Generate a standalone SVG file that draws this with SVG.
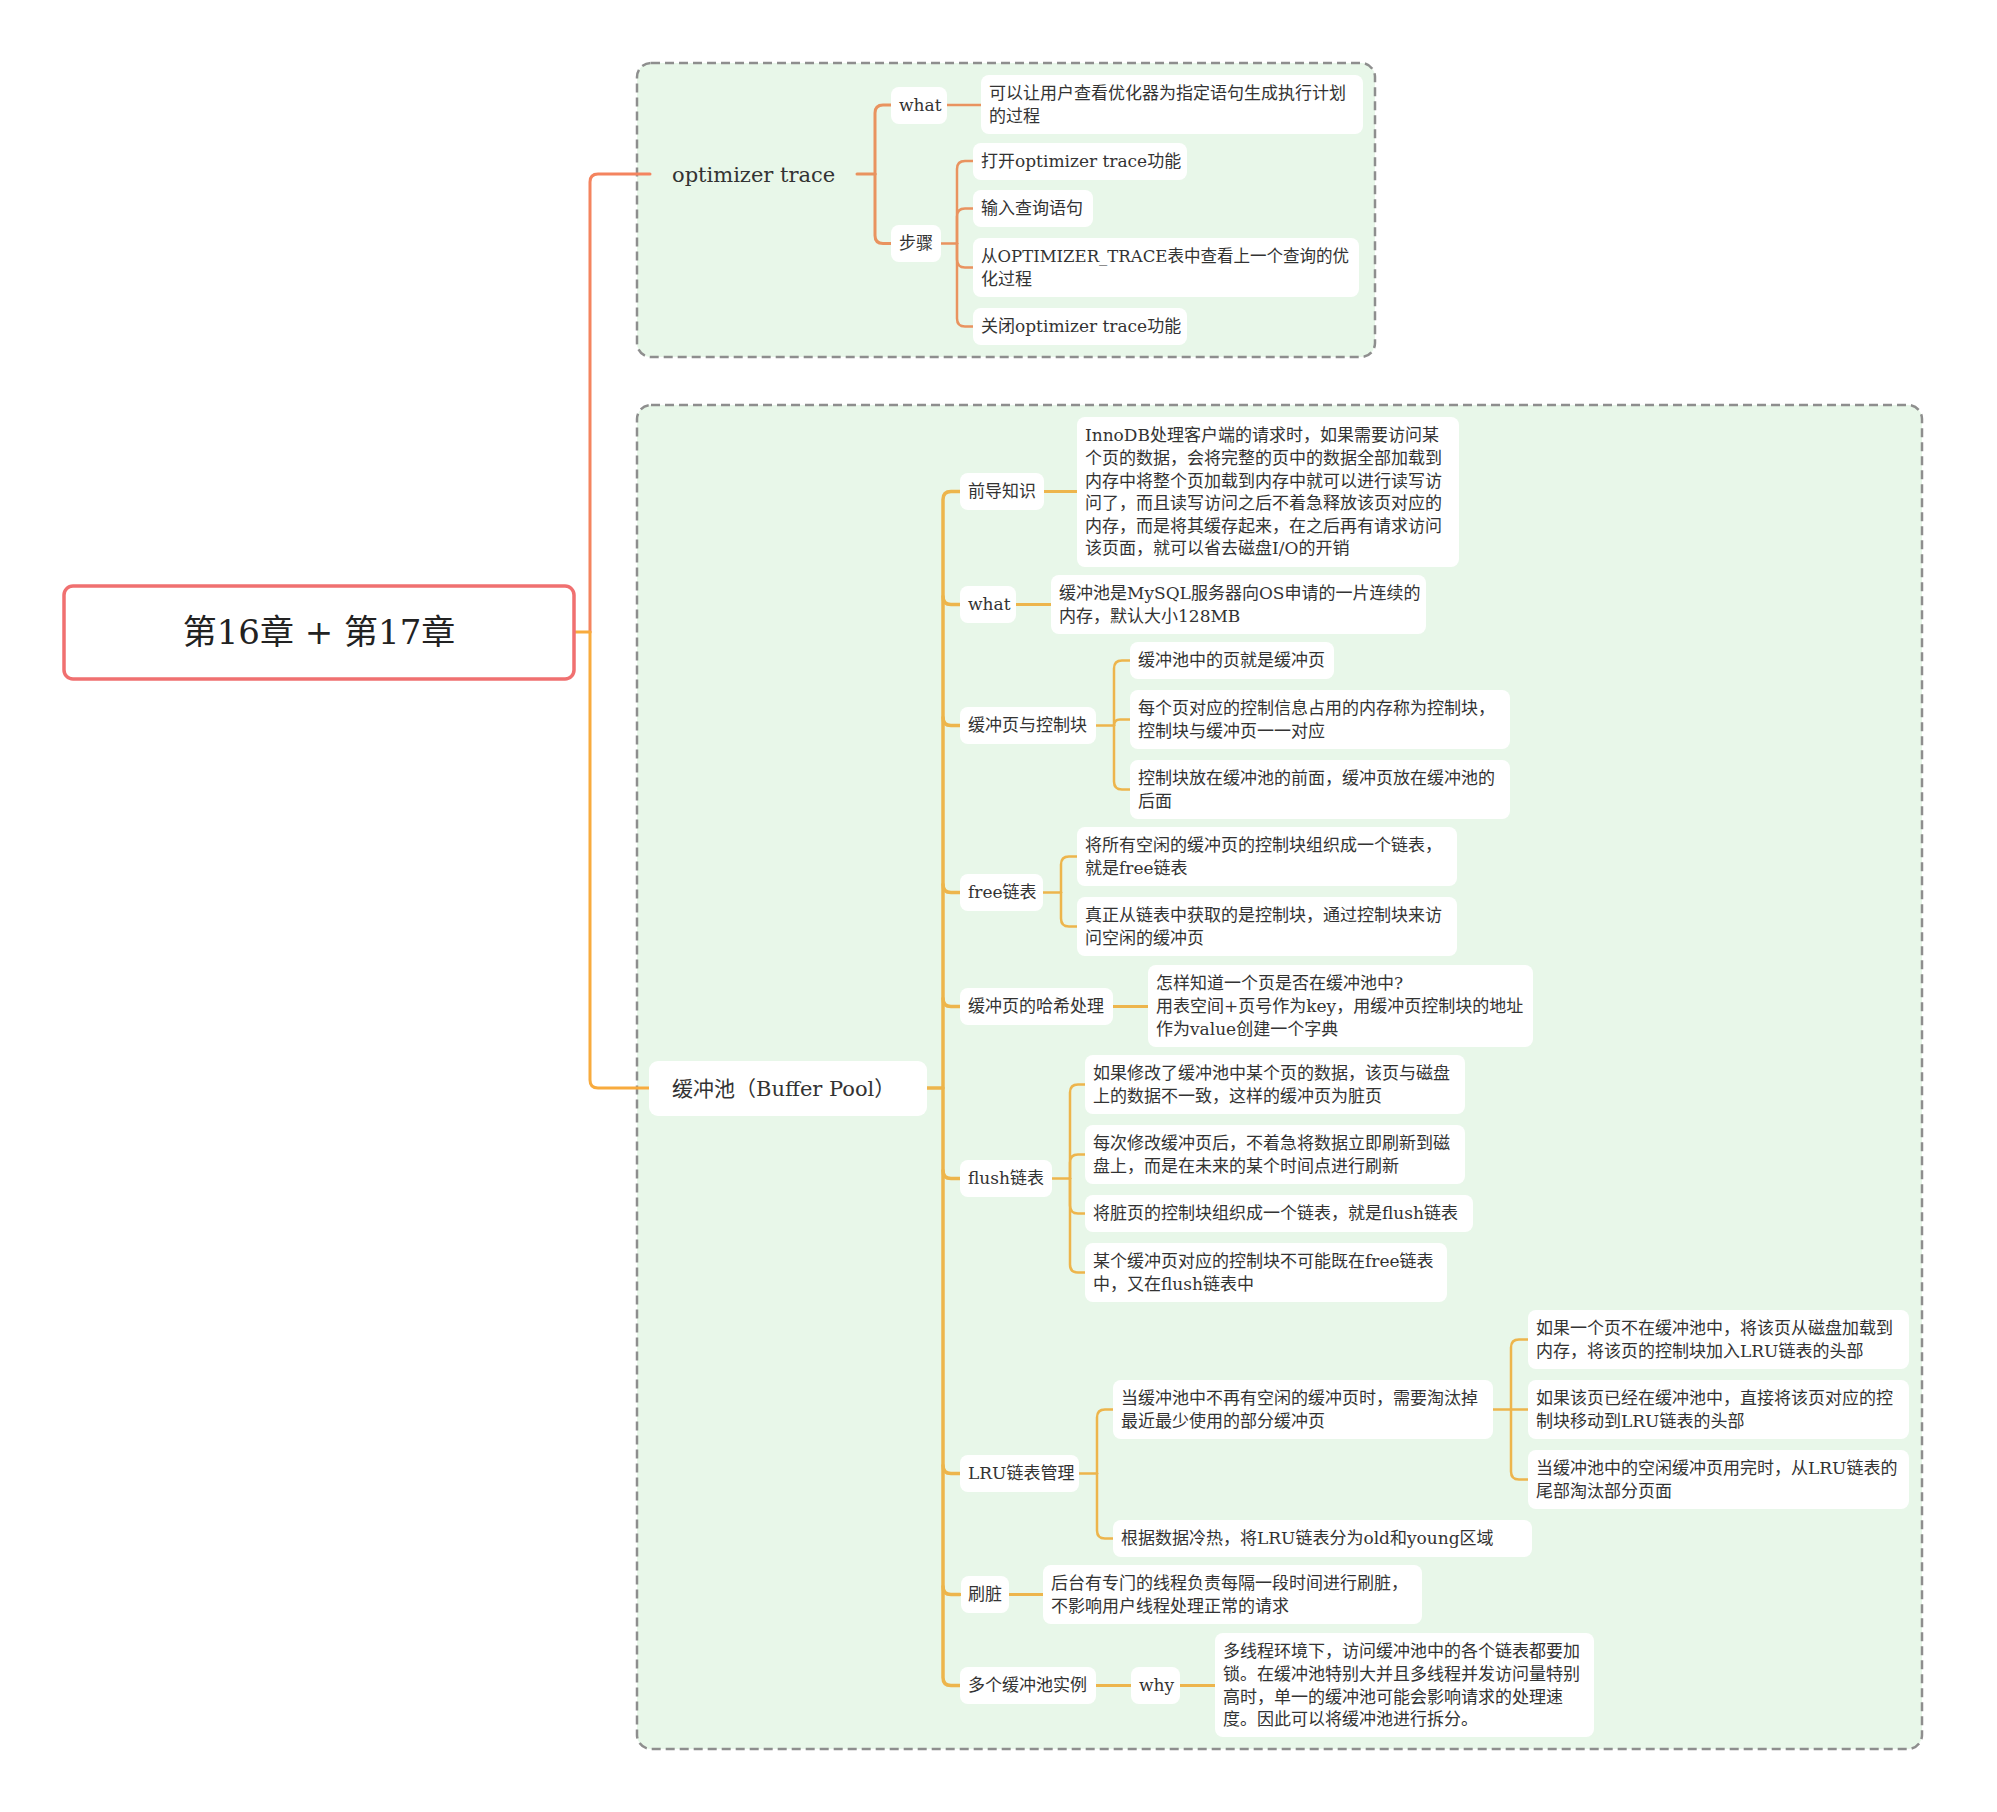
<svg xmlns="http://www.w3.org/2000/svg" width="1997" height="1812" viewBox="0 0 1997 1812">
<style>
.bg{fill:#FFFFFF}
.grp{fill:#E8F7E9;stroke:#8E8E8E;stroke-width:2.5;stroke-dasharray:9 5}
.n{fill:#FFFFFF}
.t{font-family:"DejaVu Serif","Noto Sans CJK SC",serif;font-size:17px;fill:#333333}
.t1{font-size:21px}
.tr{font-size:34px;fill:#222222}
.c{fill:none;stroke-linecap:round;stroke-linejoin:round}
.o{stroke:#E9935F}
.y{stroke:#EDB54C}
.w35{stroke-width:3.5}
.w3{stroke-width:3}
.w25{stroke-width:2.5}
</style>
<rect class="bg" x="0" y="0" width="1997" height="1812"/>
<rect id="frame-optimizer" class="grp" x="637" y="63" width="738" height="294" rx="14"/>
<rect id="frame-bufferpool" class="grp" x="637" y="405" width="1285" height="1344" rx="14"/>

<g id="connectors">
  <path class="c w3" stroke="#F4845F" d="M 650 174 H 598 Q 590 174 590 182 V 632"/>
  <path class="c w3" stroke="#F8AB3E" d="M 590 632 V 1080 Q 590 1088 598 1088 H 649"/>
  <path class="c w3" stroke="#F8AB3E" d="M 574 632 H 590"/>
  <!-- optimizer trace -->
  <path class="c o w3" d="M 857 174 H 875"/>
  <path class="c o w3" d="M 875 174 V 113 Q 875 105 883 105 H 891"/>
  <path class="c o w3" d="M 875 174 V 235.5 Q 875 243.5 883 243.5 H 891"/>
  <path class="c o w25" d="M 947 105 H 981"/>
  <path class="c o w25" d="M 941 243.5 H 957"/>
  <path class="c o w25" d="M 957 243.5 V 169 Q 957 161 965 161 H 973"/>
  <path class="c o w25" d="M 957 243.5 V 216.5 Q 957 208.5 965 208.5 H 973"/>
  <path class="c o w25" d="M 957 243.5 V 259.5 Q 957 267.5 965 267.5 H 973"/>
  <path class="c o w25" d="M 957 243.5 V 318.5 Q 957 326.5 965 326.5 H 973"/>
  <!-- buffer pool trunk -->
  <path class="c y w35" d="M 927 1088 H 943"/>
  <path class="c y w35" d="M 960 491.5 H 951 Q 943 491.5 943 499.5 V 1677.5 Q 943 1685.5 951 1685.5 H 960"/>
  <path class="c y w35" d="M 943 596.5 Q 943 604.5 951 604.5 H 960"/>
  <path class="c y w35" d="M 943 717.5 Q 943 725.5 951 725.5 H 960"/>
  <path class="c y w35" d="M 943 884.5 Q 943 892.5 951 892.5 H 960"/>
  <path class="c y w35" d="M 943 998.5 Q 943 1006.5 951 1006.5 H 960"/>
  <path class="c y w35" d="M 943 1170.5 Q 943 1178.5 951 1178.5 H 960"/>
  <path class="c y w35" d="M 943 1465.5 Q 943 1473.5 951 1473.5 H 960"/>
  <path class="c y w35" d="M 943 1586.5 Q 943 1594.5 951 1594.5 H 960"/>
  <!-- level 2 to detail -->
  <path class="c y w3" d="M 1044 491.5 H 1077"/>
  <path class="c y w3" d="M 1016 604.5 H 1051"/>
  <path class="c y w3" d="M 1113 1006.5 H 1148"/>
  <path class="c y w3" d="M 1009 1594.5 H 1043"/>
  <path class="c y w3" d="M 1096 1685.5 H 1131"/>
  <path class="c y w3" d="M 1180 1685.5 H 1215"/>
  <!-- 缓冲页与控制块 -->
  <path class="c y w25" d="M 1096 725.5 H 1114"/>
  <path class="c y w25" d="M 1114 725.5 V 668.5 Q 1114 660.5 1122 660.5 H 1130"/>
  <path class="c y w25" d="M 1114 725.5 Q 1114 719.5 1120 719.5 H 1130"/>
  <path class="c y w25" d="M 1114 725.5 V 781.5 Q 1114 789.5 1122 789.5 H 1130"/>
  <!-- free -->
  <path class="c y w25" d="M 1043 892.5 H 1061"/>
  <path class="c y w25" d="M 1061 892.5 V 864.5 Q 1061 856.5 1069 856.5 H 1077"/>
  <path class="c y w25" d="M 1061 892.5 V 918.5 Q 1061 926.5 1069 926.5 H 1077"/>
  <!-- flush -->
  <path class="c y w25" d="M 1052 1178.5 H 1070"/>
  <path class="c y w25" d="M 1070 1178.5 V 1092.5 Q 1070 1084.5 1078 1084.5 H 1085"/>
  <path class="c y w25" d="M 1070 1178.5 V 1162.5 Q 1070 1154.5 1078 1154.5 H 1085"/>
  <path class="c y w25" d="M 1070 1178.5 V 1205.5 Q 1070 1213.5 1078 1213.5 H 1085"/>
  <path class="c y w25" d="M 1070 1178.5 V 1264.5 Q 1070 1272.5 1078 1272.5 H 1085"/>
  <!-- LRU -->
  <path class="c y w25" d="M 1079 1473.5 H 1097"/>
  <path class="c y w25" d="M 1097 1473.5 V 1417.5 Q 1097 1409.5 1105 1409.5 H 1113"/>
  <path class="c y w25" d="M 1097 1473.5 V 1530.5 Q 1097 1538.5 1105 1538.5 H 1113"/>
  <path class="c y w25" d="M 1493 1409.5 H 1511"/>
  <path class="c y w25" d="M 1511 1409.5 V 1347.5 Q 1511 1339.5 1519 1339.5 H 1528"/>
  <path class="c y w25" d="M 1511 1409.5 H 1528"/>
  <path class="c y w25" d="M 1511 1409.5 V 1471.5 Q 1511 1479.5 1519 1479.5 H 1528"/>
</g>

<g id="root">
  <rect x="64" y="586" width="510" height="93" rx="9" fill="#FFFFFF" stroke="#F07070" stroke-width="3.5"/>
  <text class="t tr" x="319" y="644" text-anchor="middle">第16章 + 第17章</text>
</g>

<g id="optimizer-trace"><text class="t t1" x="672" y="181.5">optimizer trace</text></g>
<g id="ot-what"><rect class="n" x="891" y="87" width="56" height="37" rx="8"/><text class="t" x="899" y="111.3">what</text></g>
<g id="ot-what-detail"><rect class="n" x="981" y="75" width="382" height="59" rx="8"/><text class="t" x="989" y="99.3">可以让用户查看优化器为指定语句生成执行计划</text><text class="t" x="989" y="121.9">的过程</text></g>
<g id="ot-steps"><rect class="n" x="891" y="225" width="50" height="37" rx="8"/><text class="t" x="899" y="249.3">步骤</text></g>
<g id="ot-step1"><rect class="n" x="973" y="143" width="214" height="37" rx="8"/><text class="t" x="981" y="167.3">打开optimizer trace功能</text></g>
<g id="ot-step2"><rect class="n" x="973" y="190" width="120" height="37" rx="8"/><text class="t" x="981" y="214.3">输入查询语句</text></g>
<g id="ot-step3"><rect class="n" x="973" y="238" width="386" height="59" rx="8"/><text class="t" x="981" y="262.3" textLength="368" lengthAdjust="spacingAndGlyphs">从OPTIMIZER_TRACE表中查看上一个查询的优</text><text class="t" x="981" y="284.9">化过程</text></g>
<g id="ot-step4"><rect class="n" x="973" y="308" width="214" height="37" rx="8"/><text class="t" x="981" y="332.3">关闭optimizer trace功能</text></g>

<g id="buffer-pool"><rect class="n" x="649" y="1061" width="278" height="55" rx="9"/><text class="t t1" x="672" y="1095.5">缓冲池（Buffer Pool）</text></g>

<g id="bp-pre"><rect class="n" x="960" y="473" width="84" height="37" rx="8"/><text class="t" x="968" y="497.3">前导知识</text></g>
<g id="bp-pre-detail"><rect class="n" x="1077" y="417" width="382" height="150" rx="8"/>
<text class="t" x="1085" y="441.3">InnoDB处理客户端的请求时，如果需要访问某</text>
<text class="t" x="1085" y="463.9">个页的数据，会将完整的页中的数据全部加载到</text>
<text class="t" x="1085" y="486.5">内存中将整个页加载到内存中就可以进行读写访</text>
<text class="t" x="1085" y="509.1">问了，而且读写访问之后不着急释放该页对应的</text>
<text class="t" x="1085" y="531.7">内存，而是将其缓存起来，在之后再有请求访问</text>
<text class="t" x="1085" y="554.3">该页面，就可以省去磁盘I/O的开销</text></g>

<g id="bp-what"><rect class="n" x="960" y="586" width="56" height="37" rx="8"/><text class="t" x="968" y="610.3">what</text></g>
<g id="bp-what-detail"><rect class="n" x="1051" y="575" width="375" height="59" rx="8"/><text class="t" x="1059" y="599.3">缓冲池是MySQL服务器向OS申请的一片连续的</text><text class="t" x="1059" y="621.9">内存，默认大小128MB</text></g>

<g id="bp-page"><rect class="n" x="960" y="707" width="136" height="37" rx="8"/><text class="t" x="968" y="731.3">缓冲页与控制块</text></g>
<g id="bp-page-1"><rect class="n" x="1130" y="642" width="204" height="37" rx="8"/><text class="t" x="1138" y="666.3">缓冲池中的页就是缓冲页</text></g>
<g id="bp-page-2"><rect class="n" x="1130" y="690" width="380" height="59" rx="8"/><text class="t" x="1138" y="714.3">每个页对应的控制信息占用的内存称为控制块，</text><text class="t" x="1138" y="736.9">控制块与缓冲页一一对应</text></g>
<g id="bp-page-3"><rect class="n" x="1130" y="760" width="380" height="59" rx="8"/><text class="t" x="1138" y="784.3">控制块放在缓冲池的前面，缓冲页放在缓冲池的</text><text class="t" x="1138" y="806.9">后面</text></g>

<g id="bp-free"><rect class="n" x="960" y="874" width="83" height="37" rx="8"/><text class="t" x="968" y="898.3">free链表</text></g>
<g id="bp-free-1"><rect class="n" x="1077" y="827" width="380" height="59" rx="8"/><text class="t" x="1085" y="851.3">将所有空闲的缓冲页的控制块组织成一个链表，</text><text class="t" x="1085" y="873.9">就是free链表</text></g>
<g id="bp-free-2"><rect class="n" x="1077" y="897" width="380" height="59" rx="8"/><text class="t" x="1085" y="921.3">真正从链表中获取的是控制块，通过控制块来访</text><text class="t" x="1085" y="943.9">问空闲的缓冲页</text></g>

<g id="bp-hash"><rect class="n" x="960" y="988" width="153" height="37" rx="8"/><text class="t" x="968" y="1012.3">缓冲页的哈希处理</text></g>
<g id="bp-hash-detail"><rect class="n" x="1148" y="965" width="385" height="82" rx="8"/><text class="t" x="1156" y="989.3">怎样知道一个页是否在缓冲池中?</text><text class="t" x="1156" y="1011.9">用表空间+页号作为key，用缓冲页控制块的地址</text><text class="t" x="1156" y="1034.5">作为value创建一个字典</text></g>

<g id="bp-flush"><rect class="n" x="960" y="1160" width="92" height="37" rx="8"/><text class="t" x="968" y="1184.3">flush链表</text></g>
<g id="bp-flush-1"><rect class="n" x="1085" y="1055" width="380" height="59" rx="8"/><text class="t" x="1093" y="1079.3">如果修改了缓冲池中某个页的数据，该页与磁盘</text><text class="t" x="1093" y="1101.9">上的数据不一致，这样的缓冲页为脏页</text></g>
<g id="bp-flush-2"><rect class="n" x="1085" y="1125" width="380" height="59" rx="8"/><text class="t" x="1093" y="1149.3">每次修改缓冲页后，不着急将数据立即刷新到磁</text><text class="t" x="1093" y="1171.9">盘上，而是在未来的某个时间点进行刷新</text></g>
<g id="bp-flush-3"><rect class="n" x="1085" y="1195" width="388" height="37" rx="8"/><text class="t" x="1093" y="1219.3">将脏页的控制块组织成一个链表，就是flush链表</text></g>
<g id="bp-flush-4"><rect class="n" x="1085" y="1243" width="362" height="59" rx="8"/><text class="t" x="1093" y="1267.3">某个缓冲页对应的控制块不可能既在free链表</text><text class="t" x="1093" y="1289.9">中，又在flush链表中</text></g>

<g id="bp-lru"><rect class="n" x="960" y="1455" width="119" height="37" rx="8"/><text class="t" x="968" y="1479.3">LRU链表管理</text></g>
<g id="bp-lru-a"><rect class="n" x="1113" y="1380" width="380" height="59" rx="8"/><text class="t" x="1121" y="1404.3">当缓冲池中不再有空闲的缓冲页时，需要淘汰掉</text><text class="t" x="1121" y="1426.9">最近最少使用的部分缓冲页</text></g>
<g id="bp-lru-a1"><rect class="n" x="1528" y="1310" width="381" height="59" rx="8"/><text class="t" x="1536" y="1334.3">如果一个页不在缓冲池中，将该页从磁盘加载到</text><text class="t" x="1536" y="1356.9">内存，将该页的控制块加入LRU链表的头部</text></g>
<g id="bp-lru-a2"><rect class="n" x="1528" y="1380" width="381" height="59" rx="8"/><text class="t" x="1536" y="1404.3">如果该页已经在缓冲池中，直接将该页对应的控</text><text class="t" x="1536" y="1426.9">制块移动到LRU链表的头部</text></g>
<g id="bp-lru-a3"><rect class="n" x="1528" y="1450" width="381" height="59" rx="8"/><text class="t" x="1536" y="1474.3">当缓冲池中的空闲缓冲页用完时，从LRU链表的</text><text class="t" x="1536" y="1496.9">尾部淘汰部分页面</text></g>
<g id="bp-lru-b"><rect class="n" x="1113" y="1520" width="419" height="37" rx="8"/><text class="t" x="1121" y="1544.3">根据数据冷热，将LRU链表分为old和young区域</text></g>

<g id="bp-dirty"><rect class="n" x="961" y="1576" width="48" height="37" rx="8"/><text class="t" x="968" y="1600.3">刷脏</text></g>
<g id="bp-dirty-detail"><rect class="n" x="1043" y="1565" width="379" height="59" rx="8"/><text class="t" x="1051" y="1589.3">后台有专门的线程负责每隔一段时间进行刷脏，</text><text class="t" x="1051" y="1611.9">不影响用户线程处理正常的请求</text></g>

<g id="bp-multi"><rect class="n" x="960" y="1667" width="136" height="37" rx="8"/><text class="t" x="968" y="1691.3">多个缓冲池实例</text></g>
<g id="bp-why"><rect class="n" x="1131" y="1667" width="49" height="37" rx="8"/><text class="t" x="1139" y="1691.3">why</text></g>
<g id="bp-why-detail"><rect class="n" x="1215" y="1633" width="379" height="104" rx="8"/>
<text class="t" x="1223" y="1657.3">多线程环境下，访问缓冲池中的各个链表都要加</text>
<text class="t" x="1223" y="1679.9">锁。在缓冲池特别大并且多线程并发访问量特别</text>
<text class="t" x="1223" y="1702.5">高时，单一的缓冲池可能会影响请求的处理速</text>
<text class="t" x="1223" y="1725.1">度。因此可以将缓冲池进行拆分。</text></g>
</svg>
